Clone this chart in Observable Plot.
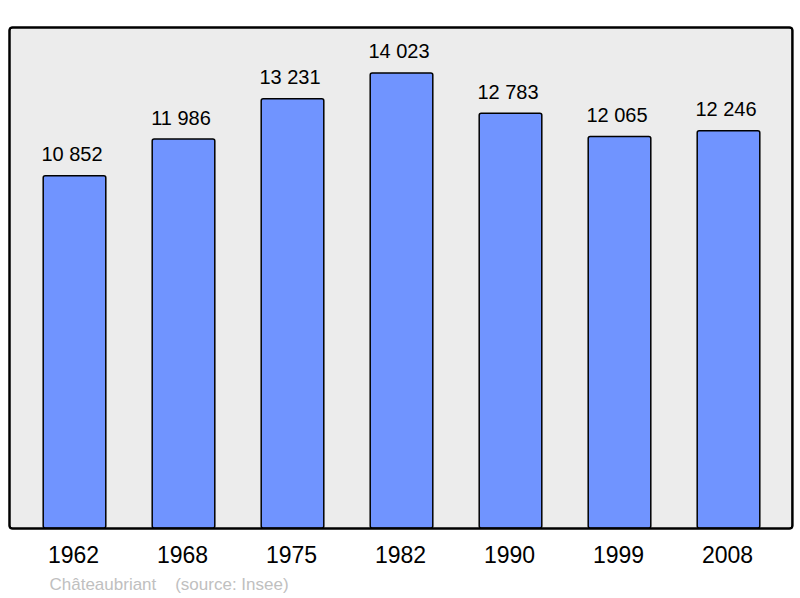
<!DOCTYPE html>
<html>
<head>
<meta charset="utf-8">
<script src="https://cdn.jsdelivr.net/npm/d3@7"></script>
<script src="https://cdn.jsdelivr.net/npm/@observablehq/plot@0.6"></script>
<style>
  html, body { margin: 0; padding: 0; background: #fff; }
  svg { font-family: "Liberation Sans", Arial, sans-serif; }
</style>
</head>
<body>
<div id="chart"></div>
<script>
const years = ["1962", "1968", "1975", "1982", "1990", "1999", "2008"];
const population = [10852, 11986, 13231, 14023, 12783, 12065, 12246];
const caption = "Châteaubriant\u00a0\u00a0\u00a0\u00a0(source: Insee)";

const data = years.map((y, i) => ({year: y, pop: population[i]}));
const fmt = d3.formatLocale({thousands: " ", grouping: [3], decimal: ","}).format(",d");

const chart = Plot.plot({
  width: 800,
  height: 598,
  marginLeft: 18.5,
  marginRight: 15.6,
  marginTop: 27,
  marginBottom: 70,
  style: {fontFamily: "'Liberation Sans', Arial, sans-serif", background: "#fff"},
  x: {domain: years, padding: 0, axis: null},
  y: {domain: [0, 15440], axis: null},
  marks: [
    Plot.frame({fill: "#ececec", stroke: "#000", strokeWidth: 2, rx: 3, insetLeft: -9.5, insetRight: -7.5}),
    Plot.barY(data, {x: "year", y: "pop", fill: "#7094ff", stroke: "#000", strokeWidth: 1.5, rx: 2, insetLeft: 23.2, insetRight: 23.2}),
    Plot.frame({fill: "none", stroke: "#000", strokeWidth: 2, rx: 3, insetLeft: -9.5, insetRight: -7.5}),
    Plot.text(data, {x: "year", y: "pop", text: d => fmt(d.pop), lineAnchor: "bottom", dy: -15, dx: -3, fontSize: 20, fill: "#000"}),
    Plot.axisX({tickSize: 0, tickPadding: 18, fontSize: 23, color: "#000", label: null, dx: -1.5}),
    Plot.text([caption], {frameAnchor: "bottom-left", textAnchor: "start", lineAnchor: "bottom", dx: 30.5, dy: 61, fontSize: 17, fill: "#c0c0c0"})
  ]
});
document.getElementById("chart").appendChild(chart);
</script>
</body>
</html>
